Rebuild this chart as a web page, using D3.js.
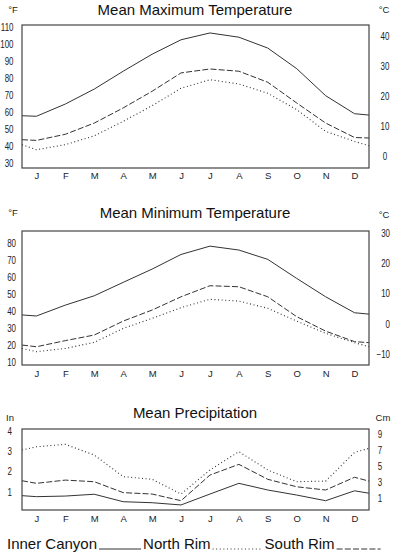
<!DOCTYPE html>
<html>
<head>
<meta charset="utf-8">
<script src="https://cdn.jsdelivr.net/npm/d3@7/dist/d3.min.js"></script>
<style>
  html, body { margin: 0; padding: 0; background: #fff; }
  svg { display: block; font-family: "Liberation Sans", Arial, sans-serif; }
  .title { font-size: 15px; fill: #111; }
  .tick text { font-size: 9.5px; fill: #222; }
  .num .tick text { font-size: 10.2px; }
  .unit { font-size: 9.5px; fill: #222; }
  .legend { font-size: 15px; fill: #111; }
</style>
</head>
<body>
<svg id="chart" width="395" height="556"></svg>
<script>
// ---- Daten ----
// jeweils 14 Werte: erster/letzter = Wert am linken/rechten Rahmen, dazwischen J..D
const months = ["J", "F", "M", "A", "M", "J", "J", "A", "S", "O", "N", "D"];

const maxInner = [57.8, 57.5, 64.7, 73.5, 84, 94, 102.5, 106.5, 104, 97.6, 85.5, 69.6, 59, 58.2];
const maxSouth = [43.7, 43.3, 46.9, 53.5, 62.4, 72.2, 83, 85.3, 84, 77.5, 65.3, 53.5, 45, 44.7];
const maxNorth = [40.8, 37.8, 40.8, 46, 54.5, 63.7, 74, 79, 76.5, 71, 61.4, 48.6, 42.7, 40.2];

const minInner = [37.5, 36.9, 43.3, 48.8, 56.7, 64.5, 73.1, 78, 75.7, 70.2, 59, 48.2, 38.8, 38];
const minSouth = [19.8, 18.8, 22.4, 25.7, 33.9, 40.4, 48.2, 54.7, 54.1, 48.2, 36.5, 28, 21.8, 21.2];
const minNorth = [17.8, 15.9, 17.8, 21.4, 29.6, 35.5, 41.8, 46.7, 45.7, 41.4, 33.9, 26.7, 21.2, 18.8];

const precInner = [0.80, 0.75, 0.78, 0.87, 0.50, 0.45, 0.34, 0.88, 1.41, 1.08, 0.83, 0.55, 1.04, 0.92];
const precSouth = [1.54, 1.41, 1.57, 1.49, 0.95, 0.88, 0.55, 1.82, 2.35, 1.61, 1.24, 1.08, 1.71, 1.52];
const precNorth = [3.06, 3.22, 3.34, 2.81, 1.74, 1.61, 0.88, 2.07, 2.98, 2.07, 1.49, 1.52, 2.94, 3.14];

// Achsen-Ticks
const maxTicksF = [30, 40, 50, 60, 70, 80, 90, 100, 110];
const maxTicksC = [0, 10, 20, 30, 40];
const minTicksF = [10, 20, 30, 40, 50, 60, 70, 80];
const minTicksC = [-10, 0, 10, 20, 30];
const precTicksIn = [1, 2, 3, 4];
const precTicksCm = [1, 3, 5, 7, 9];

const legendItems = ["Inner Canyon", "North Rim", "South Rim"];

// ---- Layout ----
const svg = d3.select("#chart");
const X0 = 22, X1 = 369;
const STROKE = "#333";
const NARROW = "scale(0.78,1)"; // Zahlen im Original schmal gesetzt
const styles = {
  inner: null,
  south: "6,2.2",
  north: "1,2.6"
};

const xMonth = d3.scalePoint().domain(d3.range(12)).range([X0, X1]).padding(0.5);
// Index 0 = linker Rahmen, 1..12 = Monate, 13 = rechter Rahmen
const xAt = i => i === 0 ? X0 : i === 13 ? X1 : xMonth(i - 1);
const fmt = d3.format("d");

function panel(cfg) {
  const yL = d3.scaleLinear().domain(cfg.leftDomain).range([cfg.bottom, cfg.top]);
  const yR = d3.scaleLinear().domain(cfg.rightDomain).range([cfg.bottom, cfg.top]);

  const g = svg.append("g");

  // Titel + Einheiten
  g.append("text").attr("class", "title")
    .attr("x", 195).attr("y", cfg.titleY)
    .attr("text-anchor", "middle").text(cfg.title);
  g.append("text").attr("class", "unit")
    .attr("x", cfg.leftUnitX).attr("y", cfg.leftUnitY)
    .attr("text-anchor", "middle").text(cfg.leftUnit);
  g.append("text").attr("class", "unit")
    .attr("x", cfg.rightUnitX).attr("y", cfg.rightUnitY)
    .attr("text-anchor", "middle").text(cfg.rightUnit);

  // linke Achse
  const axL = g.append("g").attr("class", "num")
    .attr("transform", `translate(${cfg.leftLabelX},0)`)
    .call(d3.axisLeft(yL).tickValues(cfg.leftTicks).tickFormat(fmt).tickSize(0).tickPadding(0));
  axL.select(".domain").remove();
  axL.selectAll("text").attr("x", 0).attr("dy", "0.35em").attr("transform", NARROW);

  // rechte Achse
  const axR = g.append("g").attr("class", "num")
    .attr("transform", `translate(${cfg.rightLabelX},0)`)
    .call(d3.axisRight(yR).tickValues(cfg.rightTicks).tickFormat(fmt).tickSize(0).tickPadding(0));
  axR.select(".domain").remove();
  axR.selectAll("text").attr("x", 0).attr("dy", "0.35em")
    .attr("text-anchor", cfg.rightAnchor).attr("transform", NARROW);

  // Monatsachse
  const axX = g.append("g")
    .attr("transform", `translate(0,${cfg.monthY})`)
    .call(d3.axisBottom(xMonth).tickSize(0).tickPadding(0).tickFormat(i => months[i]));
  axX.select(".domain").remove();
  axX.selectAll("text").attr("dy", 0);

  // Linien
  const line = d3.line().x((d, i) => xAt(i)).y(d => yL(d));
  cfg.series.forEach(s => {
    g.append("path")
      .datum(s.values)
      .attr("d", line)
      .attr("fill", "none")
      .attr("stroke", STROKE)
      .attr("stroke-width", s.dash === styles.north ? 1.1 : 1)
      .attr("stroke-dasharray", s.dash);
  });

  // Rahmen
  g.append("rect")
    .attr("x", X0).attr("y", cfg.top)
    .attr("width", X1 - X0).attr("height", cfg.bottom - cfg.top)
    .attr("fill", "none").attr("stroke", "#444").attr("stroke-width", 1.2);
}

panel({
  title: "Mean Maximum Temperature", titleY: 15,
  top: 25, bottom: 168,
  leftDomain: [27.06, 111.18], rightDomain: [-3.88, 43.55],
  leftTicks: maxTicksF, rightTicks: maxTicksC,
  leftLabelX: 13.5, rightLabelX: 385, rightAnchor: "middle",
  leftUnit: "°F", leftUnitX: 13, leftUnitY: 13,
  rightUnit: "°C", rightUnitX: 384, rightUnitY: 13,
  monthY: 179,
  series: [
    { values: maxInner, dash: styles.inner },
    { values: maxSouth, dash: styles.south },
    { values: maxNorth, dash: styles.north }
  ]
});

panel({
  title: "Mean Minimum Temperature", titleY: 218,
  top: 231, bottom: 365,
  leftDomain: [8.06, 86.9], rightDomain: [-13.63, 30.56],
  leftTicks: minTicksF, rightTicks: minTicksC,
  leftLabelX: 16, rightLabelX: 390, rightAnchor: "end",
  leftUnit: "°F", leftUnitX: 13, leftUnitY: 216,
  rightUnit: "°C", rightUnitX: 384, rightUnitY: 218,
  monthY: 377,
  series: [
    { values: minInner, dash: styles.inner },
    { values: minSouth, dash: styles.south },
    { values: minNorth, dash: styles.north }
  ]
});

panel({
  title: "Mean Precipitation", titleY: 418,
  top: 429, bottom: 510,
  leftDomain: [0.09, 4.1], rightDomain: [-0.5, 9.625],
  leftTicks: precTicksIn, rightTicks: precTicksCm,
  leftLabelX: 12, rightLabelX: 380, rightAnchor: "middle",
  leftUnit: "In", leftUnitX: 10, leftUnitY: 421,
  rightUnit: "Cm", rightUnitX: 383, rightUnitY: 421,
  monthY: 522,
  series: [
    { values: precInner, dash: styles.inner },
    { values: precSouth, dash: styles.south },
    { values: precNorth, dash: styles.north }
  ]
});

// ---- Legende ----
const legendY = 549;
const legendDash = [styles.inner, styles.north, styles.south];
const legendLen = [42, 50, 44];
let lx = 7;
legendItems.forEach((name, i) => {
  const t = svg.append("text").attr("class", "legend")
    .attr("x", lx).attr("y", legendY).text(name);
  lx += t.node().getComputedTextLength() + 2;
  svg.append("line")
    .attr("x1", lx).attr("x2", lx + legendLen[i])
    .attr("y1", legendY).attr("y2", legendY)
    .attr("stroke", STROKE).attr("stroke-width", 1)
    .attr("stroke-dasharray", legendDash[i]);
  lx += legendLen[i] + 2;
});
</script>
</body>
</html>
